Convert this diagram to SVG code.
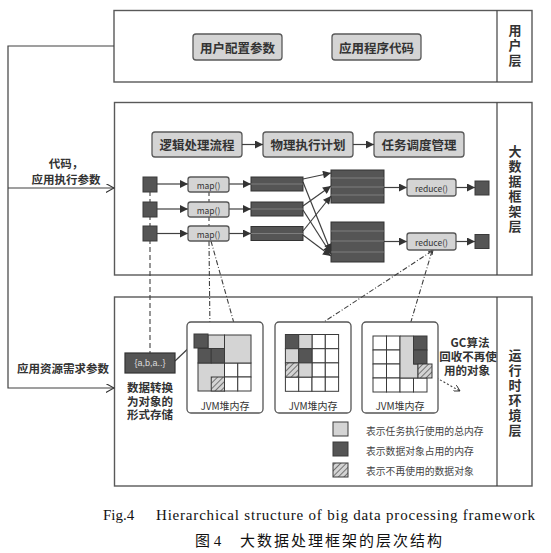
<svg xmlns="http://www.w3.org/2000/svg" width="551" height="553" viewBox="0 0 551 553">
<defs>
<style>
.frame{fill:#fff;stroke:#595959;stroke-width:1.4}
.btn{fill:#d4d4d4;stroke:#595959;stroke-width:1.3}
.btnt{font-family:"Noto Sans CJK SC","Liberation Sans",sans-serif;font-size:12.5px;font-weight:bold;fill:#333;text-anchor:middle;dominant-baseline:central}
.lay{font-family:"Noto Sans CJK SC","Liberation Sans",sans-serif;font-size:13px;font-weight:bold;fill:#333;writing-mode:vertical-rl;text-orientation:upright;letter-spacing:2px}
.lbl{font-family:"Noto Sans CJK SC","Liberation Sans",sans-serif;font-size:11.5px;font-weight:bold;fill:#333;text-anchor:middle;dominant-baseline:central}
.sm{font-family:"Noto Sans CJK SC","Liberation Sans",sans-serif;font-size:8.5px;fill:#333;text-anchor:middle;dominant-baseline:central}
.jvm{font-family:"Noto Sans CJK SC","Liberation Sans",sans-serif;font-size:10px;fill:#333;text-anchor:middle;dominant-baseline:central}
.leg{font-family:"Noto Sans CJK SC","Liberation Sans",sans-serif;font-size:9.8px;fill:#444;dominant-baseline:central}
.dk{fill:#555;stroke:#3a3a3a;stroke-width:1}
.lt{fill:#d4d4d4;stroke:#3a3a3a;stroke-width:1}
.wt{fill:#fff;stroke:#3a3a3a;stroke-width:1}
.ht{fill:url(#hatch);stroke:#3a3a3a;stroke-width:1}
.ln{fill:none;stroke:#404040;stroke-width:1.2}
.dash{fill:none;stroke:#404040;stroke-width:1.1;stroke-dasharray:5 2 1 2}
.dsh{fill:none;stroke:#404040;stroke-width:1.1;stroke-dasharray:5 3}
.dot{fill:none;stroke:#404040;stroke-width:1.1;stroke-dasharray:2 2}
.bar{fill:#555;stroke:#333;stroke-width:1}
.barl{stroke:#888;stroke-width:0.8}
.cont{fill:#fff;stroke:#555;stroke-width:1.3}
</style>
<marker id="arr" viewBox="0 0 10 10" refX="10" refY="5" markerWidth="9" markerHeight="8" markerUnits="userSpaceOnUse" orient="auto">
<path d="M0,0 L10,5 L0,10 Z" fill="#333"/>
</marker>
<marker id="open" viewBox="0 0 10 10" refX="9" refY="5" markerWidth="9" markerHeight="9" markerUnits="userSpaceOnUse" orient="auto">
<path d="M0,0 L9,5 L0,10" fill="none" stroke="#333" stroke-width="1.2"/>
</marker>
<marker id="opensm" viewBox="0 0 10 10" refX="9" refY="5" markerWidth="7" markerHeight="7" markerUnits="userSpaceOnUse" orient="auto">
<path d="M0,0 L9,5 L0,10" fill="none" stroke="#333" stroke-width="1.3"/>
</marker>
<pattern id="hatch" patternUnits="userSpaceOnUse" width="4" height="4" patternTransform="rotate(45)">
<rect width="4" height="4" fill="#d4d4d4"/>
<line x1="0" y1="0" x2="0" y2="4" stroke="#333" stroke-width="1.2"/>
</pattern>
</defs>
<rect width="551" height="553" fill="#fff"/>

<!-- layer frames -->
<g id="user-layer">
<rect class="frame" x="114" y="10.5" width="418" height="71.5"/>
<line class="ln" x1="497" y1="10.5" x2="497" y2="82"/>
<text class="lay" x="515" y="24">用户层</text>
</g>
<g id="btn-user-config">
<rect class="btn" x="193" y="34" width="89" height="26" rx="3"/>
<text class="btnt" x="237.5" y="47">用户配置参数</text>
</g>
<g id="btn-app-code">
<rect class="btn" x="332" y="34" width="89" height="26" rx="3"/>
<text class="btnt" x="376.5" y="47">应用程序代码</text>
</g>

<g id="framework-layer">
<rect class="frame" x="114.5" y="102.5" width="417.5" height="172.5"/>
<line class="ln" x1="497" y1="102.5" x2="497" y2="275"/>
<text class="lay" x="515" y="145">大数据框架层</text>
</g>
<g id="btn-logic">
<rect class="btn" x="152" y="132" width="90" height="25" rx="3"/>
<text class="btnt" x="197" y="144.5">逻辑处理流程</text>
</g>
<g id="btn-physical">
<rect class="btn" x="263" y="132" width="90" height="25" rx="3"/>
<text class="btnt" x="308" y="144.5">物理执行计划</text>
</g>
<g id="btn-schedule">
<rect class="btn" x="374" y="132" width="90" height="25" rx="3"/>
<text class="btnt" x="419" y="144.5">任务调度管理</text>
</g>

<g id="runtime-layer">
<rect class="frame" x="114.5" y="297" width="417.5" height="189"/>
<line class="ln" x1="497" y1="297" x2="497" y2="486"/>
<text class="lay" x="515" y="349">运行时环境层</text>
</g>

<!-- connectors -->
<g id="connectors">
<path class="ln" d="M114,46 H8 V388 H114" marker-end="url(#open)"/>
<path class="ln" d="M8,188 H114" marker-end="url(#open)"/>
<line class="ln" x1="242" y1="144.5" x2="263" y2="144.5" marker-end="url(#arr)"/>
<line class="ln" x1="353" y1="144.5" x2="374" y2="144.5" marker-end="url(#arr)"/>
<line class="dsh" x1="150" y1="191" x2="150" y2="353"/>
<line class="dsh" x1="209" y1="191" x2="209" y2="202"/>
<line class="dsh" x1="209" y1="216" x2="209" y2="226"/>
<line class="dash" x1="209" y1="241" x2="210" y2="333"/>
<line class="dash" x1="211" y1="241" x2="237" y2="334"/>
<line class="dash" x1="432" y1="251" x2="307" y2="333"/>
<line class="dash" x1="432" y1="251" x2="407" y2="335"/>
<path d="M428,252 L433,250 L432,255" fill="none" stroke="#333" stroke-width="1"/>
<line class="ln" x1="157" y1="184" x2="188" y2="184" marker-end="url(#arr)"/>
<line class="ln" x1="157" y1="209" x2="188" y2="209" marker-end="url(#arr)"/>
<line class="ln" x1="157" y1="233.5" x2="188" y2="233.5" marker-end="url(#arr)"/>
<line class="ln" x1="229" y1="184" x2="251" y2="184" marker-end="url(#arr)"/>
<line class="ln" x1="229" y1="209" x2="251" y2="209" marker-end="url(#arr)"/>
<line class="ln" x1="229" y1="233.5" x2="251" y2="233.5" marker-end="url(#arr)"/>
<line class="ln" x1="303" y1="179" x2="331" y2="173" marker-end="url(#arr)"/>
<line class="ln" x1="303" y1="182" x2="331" y2="252" marker-end="url(#arr)"/>
<line class="ln" x1="303" y1="206" x2="331" y2="186" marker-end="url(#arr)"/>
<line class="ln" x1="303" y1="210" x2="331" y2="254" marker-end="url(#arr)"/>
<line class="ln" x1="303" y1="231" x2="331" y2="196" marker-end="url(#arr)"/>
<line class="ln" x1="303" y1="235" x2="331" y2="256" marker-end="url(#arr)"/>
<line class="ln" x1="384" y1="187.5" x2="407" y2="187.5" marker-end="url(#arr)"/>
<line class="ln" x1="384" y1="241.5" x2="407" y2="241.5" marker-end="url(#arr)"/>
<line class="ln" x1="456" y1="187.5" x2="475" y2="187.5" marker-end="url(#arr)"/>
<line class="ln" x1="456" y1="241.5" x2="475" y2="241.5" marker-end="url(#arr)"/>
<line class="ln" x1="175" y1="361" x2="195" y2="342" marker-end="url(#arr)"/>
<line class="dot" x1="433" y1="376" x2="460" y2="391" marker-end="url(#opensm)"/>
</g>

<!-- left labels -->
<g id="label-code">
<text class="lbl" x="66" y="163"><tspan x="66" y="163">代码，</tspan><tspan x="66" y="179">应用执行参数</tspan></text>
</g>
<g id="label-resource">
<text class="lbl" x="63" y="368">应用资源需求参数</text>
</g>

<!-- middle rows -->
<g id="src-1"><rect class="dk" x="143" y="177" width="14" height="15"/></g>
<g id="src-2"><rect class="dk" x="143" y="202" width="14" height="15"/></g>
<g id="src-3"><rect class="dk" x="143" y="226" width="14" height="15"/></g>
<g id="map-1"><rect class="btn" x="188" y="177" width="41" height="15" rx="2.5"/><text class="sm" x="208.5" y="184.5">map()</text></g>
<g id="map-2"><rect class="btn" x="188" y="202" width="41" height="15" rx="2.5"/><text class="sm" x="208.5" y="209.5">map()</text></g>
<g id="map-3"><rect class="btn" x="188" y="226" width="41" height="15" rx="2.5"/><text class="sm" x="208.5" y="233.5">map()</text></g>
<g id="bar-1"><rect class="bar" x="251" y="177" width="52" height="14"/><line class="barl" x1="251" y1="184" x2="303" y2="184"/></g>
<g id="bar-2"><rect class="bar" x="251" y="202" width="52" height="14"/><line class="barl" x1="251" y1="209" x2="303" y2="209"/></g>
<g id="bar-3"><rect class="bar" x="251" y="226.5" width="52" height="14"/><line class="barl" x1="251" y1="233.5" x2="303" y2="233.5"/></g>
<g id="block-1">
<rect class="bar" x="331" y="170" width="53" height="33"/>
<line class="barl" x1="331" y1="178" x2="384" y2="178"/>
<line class="barl" x1="331" y1="187" x2="384" y2="187"/>
<line class="barl" x1="331" y1="195" x2="384" y2="195"/>
</g>
<g id="block-2">
<rect class="bar" x="331" y="222" width="53" height="40"/>
<line class="barl" x1="331" y1="231" x2="384" y2="231"/>
<line class="barl" x1="331" y1="241" x2="384" y2="241"/>
<line class="barl" x1="331" y1="252" x2="384" y2="252"/>
</g>
<g id="reduce-1"><rect class="btn" x="407" y="179" width="49" height="17" rx="2.5"/><text class="sm" x="431.5" y="187.5">reduce()</text></g>
<g id="reduce-2"><rect class="btn" x="407" y="233" width="49" height="17" rx="2.5"/><text class="sm" x="431.5" y="241.5">reduce()</text></g>
<g id="out-1"><rect class="dk" x="475" y="181" width="14" height="14"/></g>
<g id="out-2"><rect class="dk" x="475" y="234.5" width="14" height="14"/></g>

<!-- runtime -->
<g id="object">
<rect x="125" y="353" width="50" height="20" fill="#555" stroke="#333" stroke-width="1.2"/>
<text x="150" y="363" font-family="'Liberation Sans',sans-serif" font-size="9" fill="#ddd" text-anchor="middle" dominant-baseline="central">{a,b,a..}</text>
<text class="lbl" x="150" y="387"><tspan x="150" y="387">数据转换</tspan><tspan x="150" y="400.5">为对象的</tspan><tspan x="150" y="414">形式存储</tspan></text>
</g>

<g id="heap-1">
<rect class="cont" x="187" y="322" width="76" height="91" rx="4"/>
<rect class="wt" x="224.5" y="363" width="13.25" height="14"/>
<rect class="wt" x="237.75" y="363" width="13.25" height="14"/>
<rect class="wt" x="224.5" y="377" width="13.25" height="14"/>
<rect class="wt" x="237.75" y="377" width="13.25" height="14"/>
<rect class="lt" x="224.5" y="335" width="26.5" height="28"/>
<rect class="lt" x="198" y="363" width="26.5" height="28"/>
<rect class="ht" x="211.25" y="377" width="13.25" height="14"/>
<rect class="lt" x="208" y="335" width="16.5" height="13.5"/>
<rect class="dk" x="198" y="348.5" width="13.25" height="14.5"/>
<rect class="dk" x="211.25" y="348.5" width="13.25" height="14.5"/>
<rect class="dk" x="194" y="334" width="14" height="14"/>
<text class="jvm" x="225" y="405.5">JVM堆内存</text>
</g>

<g id="heap-2">
<rect class="cont" x="275" y="322" width="76" height="91" rx="4"/>
<rect class="wt" x="312" y="334.5" width="13.3" height="14.2"/>
<rect class="wt" x="325.3" y="334.5" width="13.3" height="14.2"/>
<rect class="wt" x="312" y="348.7" width="13.3" height="14.2"/>
<rect class="wt" x="325.3" y="348.7" width="13.3" height="14.2"/>
<rect class="wt" x="312" y="362.9" width="13.3" height="14.2"/>
<rect class="wt" x="325.3" y="362.9" width="13.3" height="14.2"/>
<rect class="wt" x="285.4" y="377.1" width="13.3" height="14.2"/>
<rect class="wt" x="298.7" y="377.1" width="13.3" height="14.2"/>
<rect class="wt" x="312" y="377.1" width="13.3" height="14.2"/>
<rect class="wt" x="325.3" y="377.1" width="13.3" height="14.2"/>
<rect class="dk" x="285.4" y="334.5" width="13.3" height="14.2"/>
<rect class="lt" x="298.7" y="334.5" width="13.3" height="14.2"/>
<rect class="lt" x="285.4" y="348.7" width="13.3" height="14.2"/>
<rect class="dk" x="298.7" y="348.7" width="13.3" height="14.2"/>
<rect class="ht" x="285.4" y="362.9" width="13.3" height="14.2"/>
<rect class="lt" x="298.7" y="362.9" width="13.3" height="14.2"/>
<text class="jvm" x="313" y="405.5">JVM堆内存</text>
</g>

<g id="heap-3">
<rect class="cont" x="362" y="322" width="76" height="91" rx="4"/>
<rect class="wt" x="373" y="336" width="13.5" height="14"/>
<rect class="wt" x="386.5" y="336" width="13.5" height="14"/>
<rect class="wt" x="373" y="350" width="13.5" height="14"/>
<rect class="wt" x="386.5" y="350" width="13.5" height="14"/>
<rect class="wt" x="373" y="364" width="13.5" height="14"/>
<rect class="wt" x="386.5" y="364" width="13.5" height="14"/>
<rect class="wt" x="373" y="378" width="13.5" height="14"/>
<rect class="wt" x="386.5" y="378" width="13.5" height="14"/>
<rect class="wt" x="400" y="378" width="13.5" height="14"/>
<rect class="wt" x="413.5" y="378" width="13.5" height="14"/>
<path d="M400,336 H413.5 V364 H418 V378 H400 Z" fill="#d4d4d4" stroke="#3a3a3a" stroke-width="1"/>
<rect class="dk" x="413.5" y="336" width="13.5" height="14"/>
<rect class="dk" x="413.5" y="350" width="13.5" height="14"/>
<rect class="ht" x="418" y="364" width="14" height="14"/>
<text class="jvm" x="400" y="405.5">JVM堆内存</text>
</g>

<g id="gc-label">
<text class="lbl" x="470" y="342"><tspan x="470" y="342">GC算法</tspan><tspan x="468" y="356">回收不再使</tspan><tspan x="467" y="370">用的对象</tspan></text>
</g>

<g id="legend">
<rect class="lt" x="333" y="422" width="15" height="14"/>
<text class="leg" x="366" y="431">表示任务执行使用的总内存</text>
<rect class="dk" x="333" y="442" width="15" height="14"/>
<text class="leg" x="366" y="451">表示数据对象占用的内存</text>
<rect class="ht" x="333" y="463" width="15" height="14"/>
<text class="leg" x="366" y="471">表示不再使用的数据对象</text>
</g>

<g id="caption">
<text x="103" y="520" font-family="'Liberation Serif',serif" font-size="15" fill="#111">Fig.4</text>
<text x="156" y="520" font-family="'Liberation Serif',serif" font-size="15" fill="#111" textLength="379" lengthAdjust="spacing">Hierarchical structure of big data processing framework</text>
<text x="195" y="546" font-family="'Liberation Serif','Noto Sans CJK SC',sans-serif" font-size="15" fill="#111">图 4</text>
<text x="240" y="546" font-family="'Liberation Serif','Noto Sans CJK SC',sans-serif" font-size="15" fill="#111" textLength="202" lengthAdjust="spacing">大数据处理框架的层次结构</text>
</g>
</svg>
